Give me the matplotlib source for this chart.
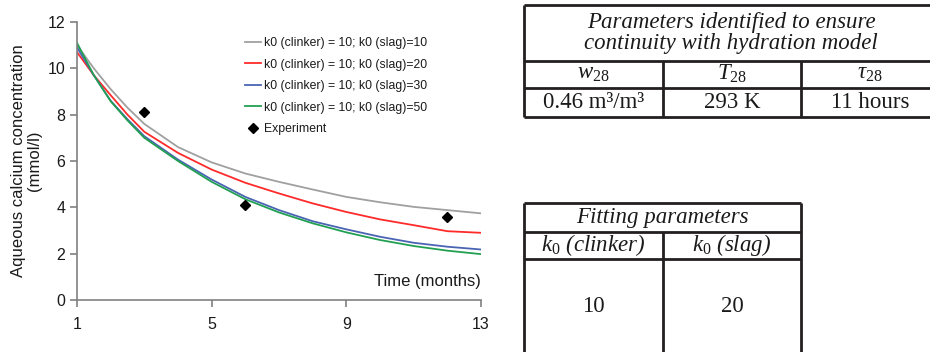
import matplotlib
matplotlib.use("Agg")
import matplotlib.pyplot as plt
from matplotlib.lines import Line2D

plt.rcParams['font.family'] = ['Liberation Sans', 'DejaVu Sans']
plt.rcParams['mathtext.fontset'] = 'custom'
plt.rcParams['mathtext.rm'] = 'Liberation Serif'
plt.rcParams['mathtext.it'] = 'Liberation Serif:italic'

# Simulated aqueous calcium concentration (mmol/l) vs time (months)
months = [1, 1.5, 2, 2.5, 3, 4, 5, 6, 7, 8, 9, 10, 11, 12, 13]
ca_slag10 = [11.0, 10.0, 9.1, 8.3, 7.6, 6.6, 5.94, 5.46, 5.1, 4.77, 4.45, 4.22, 4.02, 3.88, 3.74]
ca_slag20 = [10.7, 9.7, 8.84, 8.0, 7.26, 6.35, 5.63, 5.06, 4.6, 4.17, 3.8, 3.48, 3.23, 2.97, 2.9]
ca_slag30 = [10.9, 9.7, 8.6, 7.8, 7.07, 6.06, 5.2, 4.45, 3.88, 3.4, 3.05, 2.73, 2.47, 2.3, 2.18]
ca_slag50 = [11.1, 9.7, 8.58, 7.75, 7.0, 6.0, 5.1, 4.35, 3.78, 3.31, 2.92, 2.59, 2.33, 2.13, 1.98]

# Measured values
exp_months = [3, 6, 12]
exp_ca = [8.1, 4.1, 3.6]

series_labels = ["k0 (clinker) = 10; k0 (slag)=10",
                 "k0 (clinker) = 10; k0 (slag)=20",
                 "k0 (clinker) = 10; k0 (slag)=30",
                 "k0 (clinker) = 10; k0 (slag)=50"]
series_colors = ["#a0a0a0", "#ff2a2a", "#4a64b4", "#22a052"]

x_ticks = [1, 5, 9, 13]
y_ticks = [0, 2, 4, 6, 8, 10, 12]

# Table contents
param_title = "Parameters identified to ensure\ncontinuity with hydration model"
param_headers = [r"$\mathit{w}_{\mathit{28}}$", r"$\mathit{T}_{\mathit{28}}$", r"$\mathit{\tau}_{\mathit{28}}$"]
param_values = ["0.46 m³/m³", "293 K", "11 hours"]
fit_title = "Fitting parameters"
fit_headers = [r"$\mathit{k}_{\mathit{0}}$ (clinker)", r"$\mathit{k}_{\mathit{0}}$ (slag)"]
fit_values = ["10", "20"]

W, H = 930, 352
fig = plt.figure(figsize=(W / 100, H / 100), dpi=100)

ax_l, ax_r, ax_t, ax_b = 77, 481, 22, 300
ax = fig.add_axes([ax_l / W, 1 - ax_b / H, (ax_r - ax_l) / W, (ax_b - ax_t) / H])

for ys, lab, col in zip([ca_slag10, ca_slag20, ca_slag30, ca_slag50], series_labels, series_colors):
    ax.plot(months, ys, color=col, lw=1.3, label=lab)
ax.plot(exp_months, exp_ca, linestyle='none', marker='D', ms=5, color='black', label='Experiment')

ax.set_xlim(1, 13)
ax.set_ylim(0, 12)
ax.set_xticks(x_ticks)
ax.set_yticks(y_ticks)
for s in ['top', 'right']:
    ax.spines[s].set_visible(False)
for s in ['left', 'bottom']:
    ax.spines[s].set_color('#808080')
    ax.spines[s].set_linewidth(1.2)
ax.tick_params(axis='both', colors='#808080', length=5, width=1.2, labelsize=11.5,
               labelcolor='#1a1a1a')
ax.tick_params(axis='x', pad=7)
ax.set_ylabel("Aqueous calcium concentration\n(mmol/l)", fontsize=12, color='#1a1a1a',
              labelpad=4, linespacing=1.1)
ax.text(1.0, 0.065, "Time (months)", transform=ax.transAxes, ha='right', va='center',
        fontsize=12, color='#1a1a1a')

leg = ax.legend(loc='upper left', bbox_to_anchor=(245 / W, 1 - 37 / H),
                bbox_transform=fig.transFigure, frameon=False, fontsize=8.8,
                handlelength=1.3, handletextpad=0.25, labelspacing=0.78,
                borderpad=0, borderaxespad=0)
for t in leg.get_texts():
    t.set_color('#1a1a1a')

# Overlay in pixel coordinates for the two parameter tables
ov = fig.add_axes([0, 0, 1, 1])
ov.set_xlim(0, W)
ov.set_ylim(H, 0)
ov.axis('off')
ov.patch.set_alpha(0)

lc = '#231f20'
lw = 2.0
serif = ['Liberation Serif', 'DejaVu Serif']
fs = 16.5

def hline(y, x0, x1):
    ov.add_line(Line2D([x0, x1], [y, y], color=lc, lw=lw, solid_capstyle='butt'))

def vline(x, y0, y1):
    ov.add_line(Line2D([x, x], [y0, y1], color=lc, lw=lw, solid_capstyle='butt'))

# Table 1
t1_x = [524, 663, 801, 940]
for y in [5, 61, 88, 117]:
    hline(y, t1_x[0], W + 5)
vline(t1_x[0], 5, 117)
vline(t1_x[1], 61, 117)
vline(t1_x[2], 61, 117)
ov.text(731, 33, param_title, ha='center', va='center', family=serif, style='italic',
        fontsize=fs, linespacing=1.05, color='#1a1a1a')
centers1 = [593.5, 732, 870]
for cx, hd, val in zip(centers1, param_headers, param_values):
    ov.text(cx, 74, hd, ha='center', va='center', family=serif, style='italic',
            fontsize=fs, color='#1a1a1a')
    ov.text(cx, 103, val, ha='center', va='center', family=serif, fontsize=fs,
            color='#1a1a1a')

# Table 2
t2_x = [524, 663, 801]
for y in [203, 232, 259]:
    hline(y, t2_x[0], t2_x[2])
vline(t2_x[0], 203, H + 5)
vline(t2_x[1], 232, H + 5)
vline(t2_x[2], 203, H + 5)
ov.text(662.5, 217, fit_title, ha='center', va='center', family=serif, style='italic',
        fontsize=fs, color='#1a1a1a')
centers2 = [593.5, 732]
for cx, hd, val in zip(centers2, fit_headers, fit_values):
    ov.text(cx, 245, hd, ha='center', va='center', family=serif, style='italic',
            fontsize=fs, color='#1a1a1a')
    ov.text(cx, 307, val, ha='center', va='center', family=serif, fontsize=fs,
            color='#1a1a1a')

fig.savefig("out.png", dpi=100)
